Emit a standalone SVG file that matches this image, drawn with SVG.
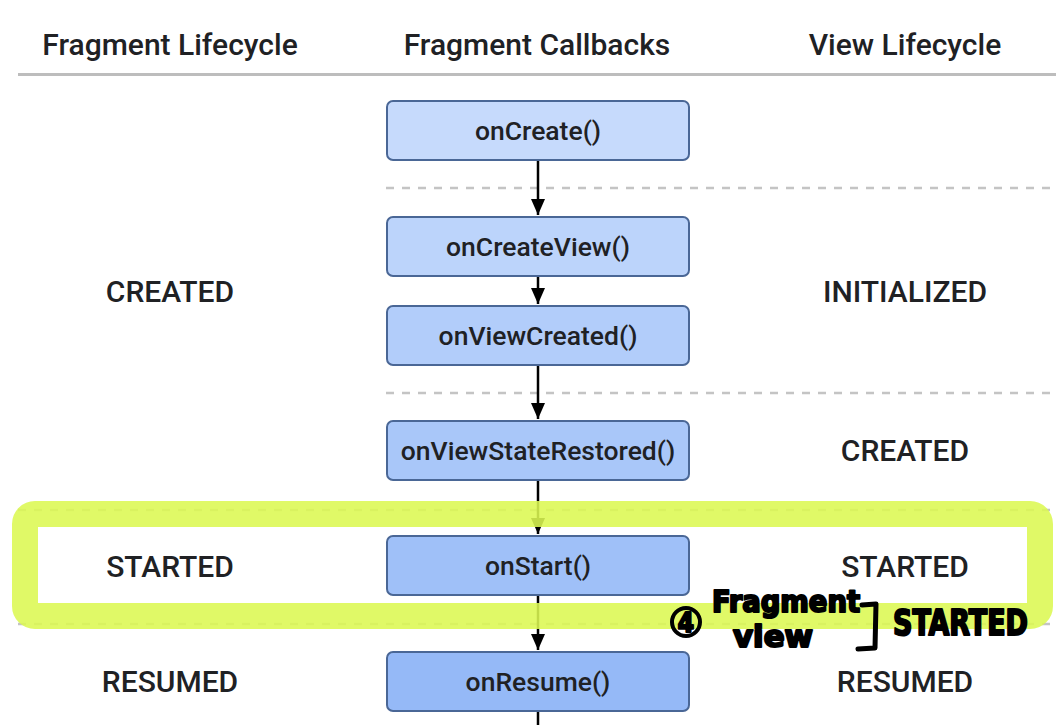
<svg xmlns="http://www.w3.org/2000/svg" width="1056" height="725" viewBox="0 0 1056 725">
  <style>
    .hdr { font-family: Roboto, "Liberation Sans", sans-serif; font-size: 30px; font-weight: 500; fill: #202124; text-anchor: middle; }
    .state { font-family: Roboto, "Liberation Sans", sans-serif; font-size: 30px; font-weight: 500; fill: #202124; text-anchor: middle; }
    .cb rect { stroke: #4a6796; stroke-width: 2; }
    .cb text { font-family: Roboto, "Liberation Sans", sans-serif; font-size: 26.5px; font-weight: 500; fill: #202124; text-anchor: middle; }
    .sep { stroke: #c4c4c4; stroke-width: 2.5; stroke-dasharray: 8 8; }
    .edge { stroke: #000; stroke-width: 2.5; fill: none; marker-end: url(#arrow); }
    .ink { font-family: "DejaVu Sans Condensed", "DejaVu Sans", sans-serif; font-weight: 700; fill: #000; stroke: #000; stroke-width: 2; stroke-linejoin: round; }
  </style>
  <defs>
    <marker id="arrow" viewBox="0 0 16 14" refX="16" refY="7" markerWidth="16" markerHeight="14" markerUnits="userSpaceOnUse" orient="auto">
      <path d="M0,0 L16,7 L0,14 Z" fill="#000"/>
    </marker>
  </defs>
  <rect width="1056" height="725" fill="#fff"/>

  <!-- column headings -->
  <g id="headings">
    <text class="hdr" x="170" y="55">Fragment Lifecycle</text>
    <text class="hdr" x="537" y="55">Fragment Callbacks</text>
    <text class="hdr" x="905" y="55">View Lifecycle</text>
    <line x1="18" y1="74.5" x2="1056" y2="74.5" stroke="#bdbdbd" stroke-width="3"/>
  </g>

  <!-- state separators -->
  <g id="separators">
    <line class="sep" x1="386" y1="188" x2="1056" y2="188"/>
    <line class="sep" x1="386" y1="393" x2="1056" y2="393"/>
    <line class="sep" x1="18" y1="510" x2="1056" y2="510"/>
    <line class="sep" x1="18" y1="624" x2="1056" y2="624"/>
  </g>

  <!-- connectors -->
  <g id="connectors">
    <line class="edge" x1="538" y1="161" x2="538" y2="215"/>
    <line class="edge" x1="538" y1="277" x2="538" y2="304"/>
    <line class="edge" x1="538" y1="366" x2="538" y2="419"/>
    <line class="edge" x1="538" y1="481" x2="538" y2="534"/>
    <line class="edge" x1="538" y1="596" x2="538" y2="650"/>
    <line stroke="#000" stroke-width="2.5" x1="538" y1="712" x2="538" y2="725"/>
  </g>

  <!-- callbacks -->
  <g id="onCreate" class="cb">
    <rect x="387" y="101" width="302" height="59" rx="6" fill="#c6dafc"/>
    <text x="538" y="140">onCreate()</text>
  </g>
  <g id="onCreateView" class="cb">
    <rect x="387" y="217" width="302" height="59" rx="6" fill="#bcd4fb"/>
    <text x="538" y="256">onCreateView()</text>
  </g>
  <g id="onViewCreated" class="cb">
    <rect x="387" y="306" width="302" height="59" rx="6" fill="#b2cdfa"/>
    <text x="538" y="345">onViewCreated()</text>
  </g>
  <g id="onViewStateRestored" class="cb">
    <rect x="387" y="421" width="302" height="59" rx="6" fill="#a9c7f9"/>
    <text x="538" y="460">onViewStateRestored()</text>
  </g>
  <g id="onStart" class="cb">
    <rect x="387" y="536" width="302" height="59" rx="6" fill="#9fc0f8"/>
    <text x="538" y="575">onStart()</text>
  </g>
  <g id="onResume" class="cb">
    <rect x="387" y="652" width="302" height="59" rx="6" fill="#95b9f7"/>
    <text x="538" y="691">onResume()</text>
  </g>

  <!-- lifecycle states -->
  <g id="fragment-states">
    <text class="state" x="170" y="302">CREATED</text>
    <text class="state" x="170" y="577">STARTED</text>
    <text class="state" x="170" y="692">RESUMED</text>
  </g>
  <g id="view-states">
    <text class="state" x="905" y="302">INITIALIZED</text>
    <text class="state" x="905" y="461">CREATED</text>
    <text class="state" x="905" y="577">STARTED</text>
    <text class="state" x="905" y="692">RESUMED</text>
  </g>

  <!-- highlighter band around the STARTED row -->
  <g id="highlight">
    <rect x="25" y="514" width="1015" height="102" rx="10" fill="none" stroke="#dcf852" stroke-opacity="0.88" stroke-width="26"/>
  </g>

  <!-- handwritten note -->
  <g id="note">
    <circle cx="686" cy="622" r="14" fill="none" stroke="#000" stroke-width="4"/>
    <text class="ink" x="686" y="632" font-size="26" text-anchor="middle">4</text>
    <text class="ink" x="712" y="612" font-size="30" textLength="148" lengthAdjust="spacingAndGlyphs">Fragment</text>
    <text class="ink" x="733" y="647" font-size="30" textLength="80" lengthAdjust="spacingAndGlyphs">view</text>
    <path d="M862,605 L876,604 L875,648 L858,649" fill="none" stroke="#000" stroke-width="5" stroke-linecap="round" stroke-linejoin="round"/>
    <text class="ink" x="893" y="635" font-size="36" textLength="135" lengthAdjust="spacingAndGlyphs">STARTED</text>
  </g>
</svg>
